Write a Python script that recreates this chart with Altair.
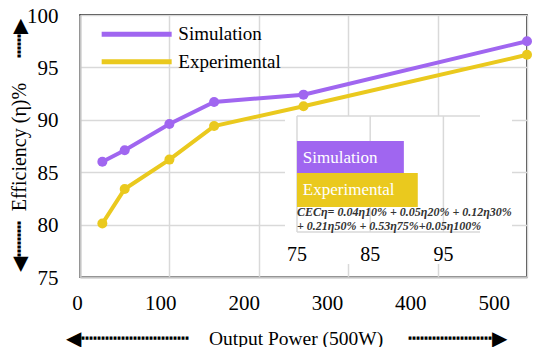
import altair as alt
import pandas as pd

# ---------------- data ----------------
power = [25, 50, 100, 150, 250, 500]
simulation = [86.0, 87.1, 89.6, 91.7, 92.4, 97.5]
experimental = [80.1, 83.4, 86.2, 89.4, 91.3, 96.2]
series_names = ["Simulation", "Experimental"]
series_colors = ["#A066F0", "#EAC91E"]
x_ticks = [0, 100, 200, 300, 400, 500]
y_ticks = [75, 80, 85, 90, 95, 100]
cec_values = [89.6, 91.5]
cec_ticks = [75, 85, 95]
cec_formula = ["CECη= 0.04η10% + 0.05η20% + 0.12η30%",
               "+ 0.21η50% + 0.53η75%+0.05η100%"]

# ---------------- style ----------------
W, H = 447, 262
SERIF = "Liberation Serif"
GRID = "#d9d9d9"
DOMAIN = "#c4c4c4"

df = pd.DataFrame({
    "power": power * 2,
    "eff": simulation + experimental,
    "series": [series_names[0]] * len(power) + [series_names[1]] * len(power),
})

cscale = alt.Scale(domain=series_names, range=series_colors)
color = alt.Color("series:N", scale=cscale, legend=None)

x_main = alt.X("power:Q", scale=alt.Scale(domain=[0, 500], nice=False),
               axis=alt.Axis(values=x_ticks, grid=True, labels=False, ticks=False,
                             domainColor=DOMAIN, domainWidth=2, gridColor=GRID, gridWidth=1.5,
                             title=None))
y_title = "◀┅┅┅" + "\u00a0" * 2 + "Efficiency (η)%" + "\u00a0" * 5 + "┅┅▶"
y_main = alt.Y("eff:Q", scale=alt.Scale(domain=[75, 100], nice=False, zero=False),
               axis=alt.Axis(values=y_ticks, grid=True, ticks=False, domainColor=DOMAIN, domainWidth=2,
                             gridColor=GRID, gridWidth=1.5, labelFont=SERIF, labelFontSize=21,
                             labelColor="black", labelPadding=22, labelOverlap=False, labelOffset=1,
                             title=y_title, titleFont=SERIF, titleFontSize=20, titleFontWeight="normal",
                             titleColor="black", titleX=-51, titleY=130, titleAlign="center"))

base = alt.Chart(df).encode(x=x_main, y=y_main, color=color)
lines = base.mark_line(strokeWidth=4)
points = base.mark_point(filled=True, size=100, opacity=1)
main = alt.layer(lines, points)

# axis with the printed tick labels (shifted relative to the grid, as in the source)
x_title = "◀" + "┅" * 9 + "\u00a0" * 4 + "Output Power (500W)" + "\u00a0" * 5 + "┅" * 7 + "▶"
label_layer = alt.Chart(pd.DataFrame({"t": x_ticks})).mark_point(opacity=0).encode(
    x=alt.X("t:Q", scale=alt.Scale(domain=[0, 536.4], nice=False),
            axis=alt.Axis(orient="bottom", values=x_ticks, grid=False, ticks=False, domain=False,
                          labelOffset=-3, labelFlush=False, labelOverlap=False, labelFont=SERIF,
                          labelFontSize=21, labelColor="black", labelPadding=15,
                          title=x_title, titleFont=SERIF, titleFontSize=19.5, titleFontWeight="normal",
                          titleColor="black", titleX=206, titleY=52, titleAlign="center"))
)

# ---------------- overlay (legend + CEC inset) ----------------
ox = alt.Scale(domain=[45.36, 106.42], nice=False, zero=False)
oy = alt.Scale(domain=[-4.469, 3.719], nice=False, zero=False, reverse=True)

one = pd.DataFrame({"k": [0]})

bg = alt.Chart(one).transform_calculate(a="73.36", b="104.37", c="-1.3125", d="3.3125").mark_rect(
    color="white").encode(x=alt.X("a:Q", scale=ox, axis=None), x2="b:Q",
                           y=alt.Y("c:Q", scale=oy, axis=None), y2="d:Q")

vgrid = alt.Chart(pd.DataFrame({"v": cec_ticks})).transform_calculate(
    y0="-1.3125", y1="2.3125").mark_rule(color=GRID, strokeWidth=1.5).encode(
    x=alt.X("v:Q", scale=ox, axis=None), y=alt.Y("y0:Q", scale=oy, axis=None), y2="y1:Q")
hframe = alt.Chart(pd.DataFrame({"h": [-1.3125, 2.3125]})).transform_calculate(
    x0="75", x1="100").mark_rule(color=GRID, strokeWidth=1.5).encode(
    y=alt.Y("h:Q", scale=oy, axis=None), x=alt.X("x0:Q", scale=ox, axis=None), x2="x1:Q")

cec_df = pd.DataFrame({"series": series_names, "value": cec_values, "row": [0, 1]})
bars = alt.Chart(cec_df).transform_calculate(
    top="datum.row - 0.53", bot="datum.row + 0.53", x0="75").mark_rect().encode(
    x=alt.X("x0:Q", scale=ox, axis=None), x2="value:Q",
    y=alt.Y("top:Q", scale=oy, axis=None), y2="bot:Q",
    color=alt.Color("series:N", scale=cscale, legend=None))
bar_text = alt.Chart(cec_df).transform_calculate(tx="75.8").mark_text(
    align="left", baseline="middle", font=SERIF, fontSize=17, color="white").encode(
    x=alt.X("tx:Q", scale=ox, axis=None), y=alt.Y("row:Q", scale=oy, axis=None), text="series:N")

formula_df = pd.DataFrame({"txt": cec_formula, "row": [1.69, 2.12]})
formula = alt.Chart(formula_df).transform_calculate(tx="75").mark_text(
    align="left", baseline="middle", font=SERIF, fontSize=12,
    fontStyle="italic", fontWeight="bold", color="#333333").encode(
    x=alt.X("tx:Q", scale=ox, axis=None), y=alt.Y("row:Q", scale=oy, axis=None), text="txt:N")

inset_labels = alt.Chart(pd.DataFrame({"v": cec_ticks})).transform_calculate(ty="3.03").mark_text(
    baseline="middle", font=SERIF, fontSize=20, color="black").encode(
    x=alt.X("v:Q", scale=ox, axis=None), y=alt.Y("ty:Q", scale=oy, axis=None), text="v:Q")

leg_df = pd.DataFrame({"series": series_names, "row": [-3.866, -3.009]})
leg_lines = alt.Chart(leg_df).transform_calculate(x0="48.32", x1="57.88").mark_rule(strokeWidth=5).encode(
    x=alt.X("x0:Q", scale=ox, axis=None), x2="x1:Q", y=alt.Y("row:Q", scale=oy, axis=None),
    color=alt.Color("series:N", scale=cscale, legend=None))
leg_text = alt.Chart(leg_df).transform_calculate(tx="58.79").mark_text(
    align="left", baseline="middle", font=SERIF, fontSize=19, color="black").encode(
    x=alt.X("tx:Q", scale=ox, axis=None), y=alt.Y("row:Q", scale=oy, axis=None), text="series:N")

overlay = alt.layer(bg, vgrid, hframe, bars, bar_text, formula, inset_labels, leg_lines, leg_text)

chart = alt.layer(main, label_layer, overlay).resolve_scale(
    x="independent", y="independent"
).properties(
    width=W, height=H,
    autosize=alt.AutoSizeParams(type="none"),
    padding={"left": 72, "top": 7, "right": 15, "bottom": 70},
).configure(font=SERIF).configure_view(stroke="black", strokeWidth=1.5)

chart.save("out.html", embed_options={"renderer": "svg", "actions": False})
